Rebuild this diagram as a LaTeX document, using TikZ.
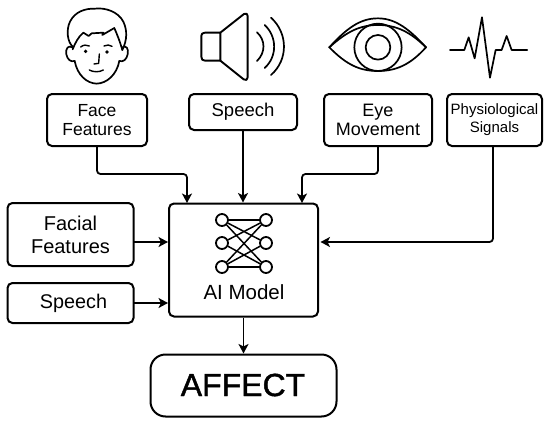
\documentclass[tikz,border=0pt]{standalone}
\usepackage{fontspec}
\setmainfont{Liberation Sans}
\usetikzlibrary{arrows.meta,calc}
\tikzset{
 box/.style={draw=black,line width=2pt,rounded corners=5pt,inner sep=0pt,align=center,anchor=center},
 conn/.style={draw=black,line width=1.8pt,-{Stealth[length=9.5pt,width=10pt,inset=2.5pt]},rounded corners=3.5pt},
 icon/.style={draw=black,line width=1.7pt,line cap=round,line join=round},
 thinicon/.style={draw=black,line width=1.4pt,line cap=round,line join=round},
 nn/.style={circle,draw=black,line width=1.8pt,minimum size=12pt,inner sep=0pt,fill=white},
 nl/.style={draw=black,line width=1.5pt},
 fs/.style 2 args={font=\fontsize{#1pt}{#2pt}\selectfont},
}
\begin{document}
\begin{tikzpicture}[x=1pt,y=-1pt]
\useasboundingbox (0,0) rectangle (550,426);
\node[box,fs={17.5}{18.5},minimum width=100pt,minimum height=52pt] (face) at (97,120) {Face\\Features};
\node[box,fs={18.5}{20},minimum width=108pt,minimum height=36pt] (sp1) at (243,112) {\raisebox{-1pt}{Speech}};
\node[box,fs={18}{18.5},minimum width=108pt,minimum height=52pt] (eye) at (378,120) {Eye\\Movement};
\node[box,fs={15}{18},minimum width=95pt,minimum height=52pt] (phys) at (494.5,120) {Physiological\\Signals};
\node[box,fs={20}{23},minimum width=126pt,minimum height=63pt] (ff) at (70.5,234.5) {Facial\\Features};
\node[box,fs={19.8}{22},minimum width=126pt,minimum height=40pt] (sp2) at (70.5,303) {\hspace*{6pt}\raisebox{-2pt}{Speech}};
\node[box,minimum width=149pt,minimum height=113pt] (ai) at (243.5,260) {};
\node[box,rounded corners=15pt,minimum width=186pt,minimum height=62pt] (affect) at (243.5,385.5) {};
\node[fs={32}{36},inner sep=0pt] (afflbl) at (243,385) {\addfontfeature{FakeBold=1.4}AFFECT};
\node[fs={20.5}{24},anchor=center,inner sep=0pt] (ailbl) at (244,292) {AI Model};
% network
\node[nn] (l1) at (222,220) {}; \node[nn] (l2) at (222,243) {}; \node[nn] (l3) at (222,267) {};
\node[nn] (r1) at (266,220) {}; \node[nn] (r2) at (266,243) {}; \node[nn] (r3) at (266,267) {};
\foreach \a/\b in {l1/r1,l1/r2,l1/r3,l2/r1,l2/r3,l3/r1,l3/r2,l3/r3}{\draw[nl] (\a) -- (\b);}
% connectors
\coordinate (a1) at (187,203); \coordinate (a3) at (302,203);
\coordinate (b4) at (493,146);
\coordinate (c) at (320.5,242);
\draw[conn] (face.south) -- (97,174) -- (187,174) -- (a1);
\draw[conn] (sp1.south) -- (sp1.south |- ai.north);
\draw[conn] (eye.south) -- (378,174) -- (302,174) -- (a3);
\draw[conn] (b4) -- (b4 |- c) -- (c);
\coordinate (d1) at (134,242); \coordinate (d2) at (134,303);
\draw[conn] (d1) -- (d1 -| ai.west);
\draw[conn] (d2) -- (d2 -| ai.west);
\draw[conn] (ai.south) -- (ai.south |- affect.north);
% face icon
\begin{scope}[shift={(40,0)},x=0.3333pt,y=-0.3333pt]
\draw[icon] (98,140) .. controls (82,125) and (78,90) .. (90,65) .. controls (105,35) and (135,25) .. (165,26) .. controls (195,22) and (235,35) .. (250,65) .. controls (262,90) and (262,120) .. (247,150);
\draw[icon] (98,148) .. controls (105,130) and (115,110) .. (130,98) -- (146,108) -- (155,100) -- (190,98) -- (187,105) -- (223,84) .. controls (232,105) and (240,125) .. (247,150);
\draw[icon] (97,142) .. controls (85,135) and (76,145) .. (79,163) .. controls (82,178) and (92,187) .. (104,183);
\draw[icon] (247,142) .. controls (258,135) and (267,145) .. (263,163) .. controls (260,178) and (250,187) .. (238,183);
\draw[icon] (104,183) .. controls (112,225) and (140,250) .. (170,251) .. controls (200,250) and (230,225) .. (238,183);
\draw[thinicon] (122,141) .. controls (130,134) and (140,134) .. (148,138);
\draw[thinicon] (192,138) .. controls (200,134) and (210,134) .. (216,139);
\fill (137,154) circle (5.5); \fill (201,156) circle (5.5);
\draw[thinicon] (178,162) -- (176,190) -- (162,192);
\draw[thinicon] (148,210) .. controls (160,217) and (178,217) .. (190,210);
\end{scope}
% speaker icon
\begin{scope}[shift={(40,0)},x=0.3333pt,y=-0.3333pt]
\draw[icon,line width=1.9pt] (541,98) -- (495,98) .. controls (487,98) and (484,102) .. (484,108) -- (484,170) .. controls (484,178) and (488,182) .. (495,182) -- (541,182) -- cycle;
\draw[icon,line width=1.9pt] (541,98) -- (612,42) .. controls (619,38) and (623,42) .. (623,48) -- (623,232) .. controls (623,240) and (617,243) .. (611,238) -- (541,182);
\draw[icon] (651,97) .. controls (677,120) and (677,158) .. (651,183);
\draw[icon] (674,75) .. controls (712,110) and (712,170) .. (674,204);
\draw[icon] (693,53) .. controls (745,100) and (745,180) .. (693,225);
\end{scope}
% eye icon
\begin{scope}[shift={(310,0)},x=0.3333pt,y=-0.3333pt]
\draw[icon] (58,142) .. controls (110,85) and (150,55) .. (204,55) .. controls (258,55) and (300,90) .. (348,142);
\draw[icon] (58,142) .. controls (110,95) and (150,75) .. (204,75) .. controls (258,75) and (300,95) .. (348,142);
\draw[icon] (58,142) .. controls (110,195) and (150,213) .. (204,213) .. controls (258,213) and (300,195) .. (348,142);
\draw[icon] (204,142) circle (71);
\draw[icon] (204,142) circle (37);
\end{scope}
% pulse icon
\begin{scope}[shift={(310,0)},x=0.3333pt,y=-0.3333pt]
\draw[icon] (420,150) -- (463,150) -- (476,112) -- (494,175) -- (516,52) -- (540,233) -- (557,150) -- (575,150) -- (590,108) -- (605,150) -- (652,150);
\end{scope}
\end{tikzpicture}
\end{document}
